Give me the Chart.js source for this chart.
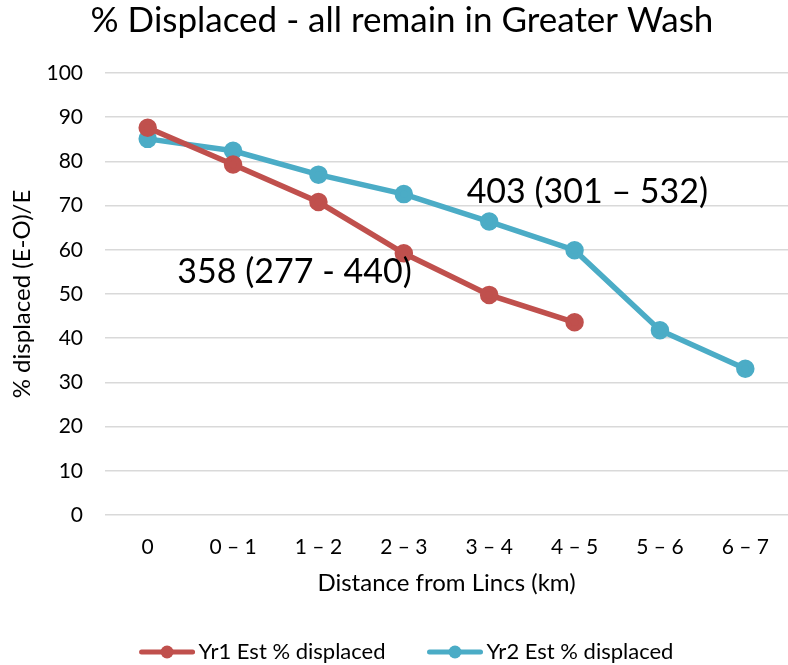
<!DOCTYPE html>
<html>
<head>
<meta charset="utf-8">
<script src="https://cdn.jsdelivr.net/npm/chart.js@4.4.0/dist/chart.umd.min.js"></script>
<style>
  html, body { margin: 0; padding: 0; background: #fff; overflow: hidden; }
  canvas { display: block; }
</style>
</head>
<body>
<canvas id="chart" width="800" height="665"></canvas>
<script>
const categories = ["0", "0 \u2013 1", "1 \u2013 2", "2 \u2013 3", "3 \u2013 4", "4 \u2013 5", "5 \u2013 6", "6 \u2013 7"];
const yr1 = [87.6, 79.3, 70.8, 59.2, 49.8, 43.6, null, null];
const yr2 = [85.1, 82.4, 77.0, 72.6, 66.4, 59.9, 41.8, 33.1];
const seriesNames = ["Yr1 Est % displaced", "Yr2 Est % displaced"];
const yTicks = [0, 10, 20, 30, 40, 50, 60, 70, 80, 90, 100];
const notes = [
  { text: "403 (301 \u2013 532)", x: 5.15, y: 73.1 },
  { text: "358 (277 - 440)", x: 1.72, y: 55.0 },
];

const RED = "#C0504D";
const BLUE = "#4BACC6";
const FONT = "Lato";

const notesPlugin = {
  id: "notes",
  afterDatasetsDraw (chart) {
    const { ctx, scales } = chart;
    ctx.save();
    ctx.font = `34px ${FONT}`;
    ctx.fillStyle = "#000";
    ctx.textAlign = "center";
    ctx.textBaseline = "middle";
    notes.forEach((n) => {
      ctx.fillText(n.text, scales.x.getPixelForValue(n.x), scales.y.getPixelForValue(n.y));
    });
    ctx.restore();
  },
};

// legend drawn by hand: line with a dot, then the label
const legendPlugin = {
  id: "lineLegend",
  afterDraw (chart) {
    const { ctx } = chart;
    const markW = 57;
    const gap = 3;
    const itemGap = 41;
    ctx.save();
    ctx.font = `22px ${FONT}`;
    ctx.textBaseline = "middle";
    const items = chart.data.datasets.map((ds) => ({
      ds,
      w: markW + gap + ctx.measureText(ds.label).width,
    }));
    const total = items.reduce((s, it) => s + it.w, 0) + itemGap * (items.length - 1);
    let x = chart.width / 2 + 6 - total / 2;
    const y = chart.height - 13;
    items.forEach(({ ds, w }) => {
      ctx.strokeStyle = ds.borderColor;
      ctx.lineWidth = 5;
      ctx.lineCap = "round";
      ctx.beginPath();
      ctx.moveTo(x + 3, y);
      ctx.lineTo(x + markW - 3, y);
      ctx.stroke();
      ctx.fillStyle = ds.borderColor;
      ctx.beginPath();
      ctx.arc(x + markW / 2, y, 6.5, 0, Math.PI * 2);
      ctx.fill();
      ctx.fillStyle = "#000";
      ctx.fillText(ds.label, x + markW + gap, y);
      x += w + itemGap;
    });
    ctx.restore();
  },
};

const datasets = [
  { label: seriesNames[0], data: yr1, color: RED },
  { label: seriesNames[1], data: yr2, color: BLUE },
].map((d) => ({
  label: d.label,
  data: d.data,
  borderColor: d.color,
  backgroundColor: d.color,
  pointBackgroundColor: d.color,
  pointBorderColor: d.color,
  borderWidth: 5.5,
  pointRadius: 6.5,
  pointHoverRadius: 6.5,
  tension: 0,
  spanGaps: false,
}));

new Chart(document.getElementById("chart"), {
  type: "line",
  data: { labels: categories, datasets },
  plugins: [notesPlugin, legendPlugin],
  options: {
    responsive: false,
    animation: false,
    layout: { padding: { top: 0, right: 0, bottom: 67, left: 4 } },
    plugins: {
      tooltip: { enabled: false },
      legend: { display: false },
      title: {
        display: true,
        text: "% Displaced - all remain in Greater Wash",
        color: "#000",
        font: { family: FONT, size: 35, weight: "normal" },
        padding: { top: 0, bottom: 31 },
      },
    },
    scales: {
      x: {
        offset: true,
        border: { display: false },
        grid: { display: false, drawTicks: false },
        afterFit (axis) {
          axis.height = 83;
        },
        ticks: {
          color: "#000",
          font: { family: FONT, size: 21 },
          padding: 20,
          maxRotation: 0,
          autoSkip: false,
        },
        title: {
          display: true,
          text: "Distance from Lincs (km)",
          color: "#000",
          font: { family: FONT, size: 24 },
          padding: { top: 0, bottom: 0 },
        },
      },
      y: {
        min: 0,
        max: 100,
        afterBuildTicks (axis) {
          axis.ticks = yTicks.map((v) => ({ value: v }));
        },
        afterFit (axis) {
          axis.width = 101;
        },
        border: { display: false },
        grid: { color: "#D9D9D9", lineWidth: 1.5, drawTicks: false },
        ticks: {
          color: "#000",
          font: { family: FONT, size: 21 },
          padding: 22,
        },
        title: {
          display: true,
          text: "% displaced (E-O)/E",
          color: "#000",
          font: { family: FONT, size: 24 },
          padding: { top: 4, bottom: 0 },
        },
      },
    },
  },
});
</script>
</body>
</html>
